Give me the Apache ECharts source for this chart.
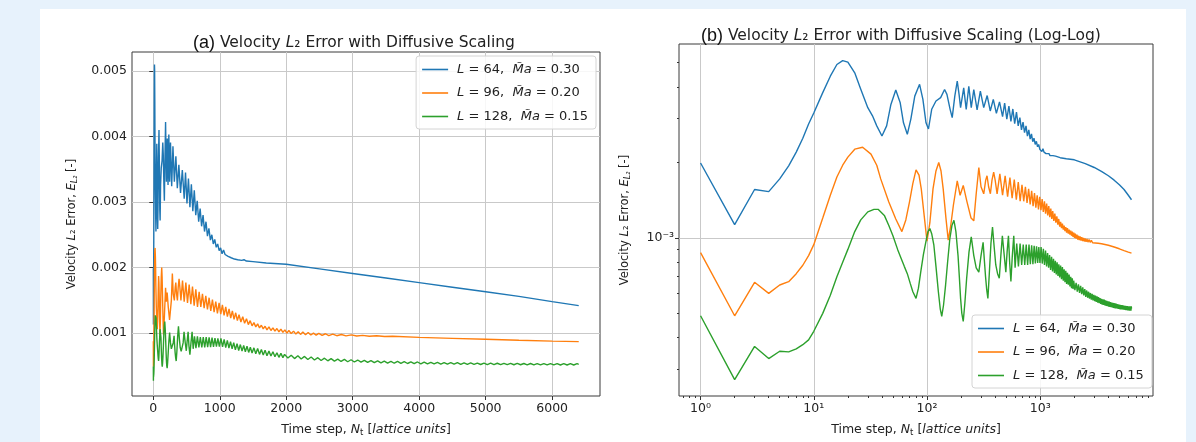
<!DOCTYPE html>
<html><head><meta charset="utf-8">
<script src="https://cdn.jsdelivr.net/npm/echarts@6/dist/echarts.min.js"></script>
<style>html,body{margin:0;padding:0;background:#e7f2fc;}#c{width:1196px;height:442px;}</style>
</head><body><div id="c"></div>
<script>
// ---------- DATA: [time step, velocity L2 error] ----------
const L64 = [[1,1.99e-3],[2,1.13e-3],[3,1.56e-3],[4,1.53e-3],[5,1.72e-3],[6,1.94e-3],[7,2.2e-3],[8,2.5e-3],[9,2.85e-3],[10,3.15e-3],
[12,3.8e-3],[14,4.42e-3],[16,4.92e-3],[18,5.1e-3],[20,5.03e-3],[23,4.56e-3],[26,3.92e-3],[30,3.31e-3],[33,3.07e-3],[36,2.8e-3],
[40,2.55e-3],[44,2.8e-3],[48,3.41e-3],[53,3.89e-3],[58,3.46e-3],[62,2.88e-3],[67,2.59e-3],[72,2.98e-3],[78,3.68e-3],[86,4.1e-3],
[92,3.57e-3],[98,2.88e-3],[103,2.72e-3],[110,3.26e-3],[120,3.52e-3],[132,3.63e-3],[143,3.91e-3],[150,3.74e-3],[160,3.26e-3],[167,3.02e-3],
[176,3.68e-3],[185,4.22e-3],[192,3.74e-3],[198,3.31e-3],[211,3.97e-3],[222,3.26e-3],[234,4.03e-3],[246,3.31e-3],[259,3.91e-3],[277,3.24e-3],
[296,3.85e-3],[317,3.31e-3],[340,3.7e-3],[362,3.21e-3],[385,3.57e-3],[410,3.14e-3],[437,3.49e-3],[465,3.05e-3],[485,3.45e-3],[507,2.98e-3],
[529,3.36e-3],[551,2.92e-3],[573,3.27e-3],[595,2.86e-3],[617,3.18e-3],[639,2.8e-3],[661,3.02e-3],[683,2.7e-3],[705,2.9e-3],[727,2.63e-3],
[749,2.8e-3],[771,2.55e-3],[793,2.7e-3],[815,2.48e-3],[837,2.6e-3],[859,2.42e-3],[881,2.5e-3],[903,2.36e-3],[925,2.43e-3],[947,2.31e-3],
[969,2.36e-3],[991,2.26e-3],[1013,2.3e-3],[1035,2.21e-3],[1057,2.27e-3],[1080,2.2e-3],[1103,2.23e-3],[1126,2.17e-3],[1149,2.2e-3],[1172,2.15e-3],
[1195,2.17e-3],[1220,2.13e-3],[1245,2.15e-3],[1270,2.12e-3],[1295,2.13e-3],[1330,2.11e-3],[1365,2.12e-3],[1400,2.1e-3],[1500,2.09e-3],[1700,2.07e-3],
[2000,2.05e-3],[2500,1.98e-3],[3000,1.91e-3],[3500,1.84e-3],[4000,1.77e-3],[4500,1.7e-3],[5000,1.63e-3],[5500,1.56e-3],[6000,1.48e-3],[6400,1.42e-3]];

const L96 = [[1,0.874e-3],[2,0.489e-3],[3,0.665e-3],[4,0.601e-3],[5,0.649e-3],[6,0.669e-3],[7,0.72e-3],[8,0.778e-3],[9,0.85e-3],[10,0.94e-3],
[12,1.2e-3],[14,1.48e-3],[16,1.75e-3],[18,1.95e-3],[20,2.1e-3],[23,2.26e-3],[27,2.3e-3],[32,2.16e-3],[36,1.95e-3],[39,1.72e-3],
[46,1.39e-3],[53,1.19e-3],[60,1.06e-3],[65,1.18e-3],[70,1.39e-3],[75,1.65e-3],[80,1.87e-3],[85,1.78e-3],[89,1.57e-3],[94,1.25e-3],
[100,0.97e-3],[106,1.15e-3],[113,1.57e-3],[120,1.85e-3],[127,2.0e-3],[133,1.85e-3],[139,1.57e-3],[147,1.2e-3],[154,0.98e-3],[162,1.12e-3],
[171,1.35e-3],[185,1.69e-3],[196,1.48e-3],[209,1.62e-3],[225,1.4e-3],[245,1.2e-3],[259,1.17e-3],[272,1.5e-3],[287,1.91e-3],[300,1.6e-3],
[317,1.5e-3],[330,1.7e-3],[339,1.77e-3],[350,1.6e-3],[363,1.5e-3],[375,1.7e-3],[388,1.83e-3],[400,1.7e-3],[416,1.5e-3],[440,1.8e-3],
[465,1.48e-3],[490,1.77e-3],[515,1.46e-3],[540,1.74e-3],[565,1.44e-3],[590,1.71e-3],[615,1.42e-3],[640,1.67e-3],[665,1.4e-3],[690,1.63e-3],
[715,1.4e-3],[740,1.6e-3],[765,1.38e-3],[790,1.57e-3],[815,1.36e-3],[840,1.54e-3],[865,1.34e-3],[890,1.51e-3],[915,1.32e-3],[940,1.48e-3],
[965,1.3e-3],[990,1.46e-3],[1015,1.29e-3],[1040,1.43e-3],[1065,1.27e-3],[1090,1.4e-3],[1115,1.25e-3],[1140,1.37e-3],[1165,1.23e-3],[1190,1.34e-3],
[1215,1.21e-3],[1240,1.31e-3],[1265,1.19e-3],[1290,1.28e-3],[1318,1.17e-3],[1346,1.25e-3],[1374,1.15e-3],[1402,1.22e-3],[1430,1.13e-3],[1458,1.19e-3],
[1486,1.11e-3],[1514,1.16e-3],[1542,1.095e-3],[1570,1.14e-3],[1598,1.08e-3],[1626,1.12e-3],[1654,1.065e-3],[1682,1.105e-3],[1710,1.05e-3],[1740,1.095e-3],
[1770,1.04e-3],[1800,1.08e-3],[1830,1.03e-3],[1860,1.07e-3],[1890,1.02e-3],[1920,1.06e-3],[1950,1.01e-3],[1980,1.05e-3],[2010,1.0e-3],[2040,1.04e-3],
[2075,0.993e-3],[2110,1.03e-3],[2145,0.985e-3],[2180,1.02e-3],[2215,0.98e-3],[2250,1.015e-3],[2290,0.975e-3],[2330,1.008e-3],[2370,0.971e-3],[2410,1.0e-3],
[2450,0.968e-3],[2490,0.995e-3],[2540,0.965e-3],[2590,0.99e-3],[2640,0.962e-3],[2700,0.985e-3],[2760,0.96e-3],[2830,0.978e-3],[2900,0.957e-3],[2980,0.972e-3],
[3060,0.955e-3],[3150,0.966e-3],[3250,0.952e-3],[3360,0.96e-3],[3480,0.948e-3],[3600,0.952e-3],[4000,0.935e-3],[4500,0.92e-3],[5000,0.905e-3],[5500,0.89e-3],[6000,0.878e-3],[6400,0.87e-3]];

const L128 = [[1,0.489e-3],[2,0.272e-3],[3,0.369e-3],[4,0.33e-3],[5,0.353e-3],[6,0.351e-3],[7,0.361e-3],[8,0.375e-3],[9,0.392e-3],[10,0.424e-3],
[12,0.5e-3],[14,0.59e-3],[16,0.7e-3],[18,0.8e-3],[20,0.9e-3],[23,1.06e-3],[26,1.18e-3],[30,1.27e-3],[34,1.3e-3],[37,1.3e-3],
[42,1.23e-3],[46,1.12e-3],[50,1.02e-3],[55,0.9e-3],[59,0.83e-3],[63,0.77e-3],[67,0.72e-3],[71,0.66e-3],[75,0.61e-3],[80,0.574e-3],
[84,0.63e-3],[88,0.73e-3],[93,0.86e-3],[98,0.97e-3],[102,1.06e-3],[106,1.09e-3],[110,1.04e-3],[115,0.935e-3],[120,0.77e-3],[126,0.61e-3],
[131,0.52e-3],[135,0.486e-3],[140,0.54e-3],[146,0.65e-3],[152,0.8e-3],[159,0.99e-3],[166,1.12e-3],[173,1.175e-3],[180,1.06e-3],[188,0.85e-3],
[193,0.7e-3],[198,0.574e-3],[203,0.5e-3],[209,0.464e-3],[216,0.55e-3],[224,0.69e-3],[235,0.88e-3],[246,1.01e-3],[253,0.92e-3],[259,0.85e-3],
[272,0.76e-3],[287,0.73e-3],[300,0.85e-3],[313,0.96e-3],[322,0.8e-3],[329,0.7e-3],[337,0.62e-3],[345,0.574e-3],[355,0.72e-3],[367,0.95e-3],
[379,1.105e-3],[392,0.92e-3],[405,0.78e-3],[420,0.72e-3],[435,0.69e-3],[449,0.85e-3],[463,1.02e-3],[480,0.86e-3],[497,0.73e-3],[510,0.88e-3],
[524,1.02e-3],[537,0.8e-3],[551,0.67e-3],[567,0.85e-3],[584,1.02e-3],[600,0.76e-3],[620,0.95e-3],[642,0.77e-3],[664,0.95e-3],[686,0.78e-3],
[708,0.94e-3],[730,0.78e-3],[752,0.94e-3],[774,0.78e-3],[796,0.94e-3],[818,0.785e-3],[840,0.935e-3],[862,0.785e-3],[884,0.93e-3],[906,0.79e-3],
[928,0.925e-3],[950,0.795e-3],[972,0.92e-3],[994,0.795e-3],[1018,0.92e-3],[1042,0.79e-3],[1066,0.905e-3],[1090,0.78e-3],[1114,0.89e-3],[1138,0.77e-3],
[1162,0.87e-3],[1186,0.76e-3],[1210,0.855e-3],[1235,0.745e-3],[1260,0.84e-3],[1285,0.735e-3],[1310,0.825e-3],[1335,0.725e-3],[1360,0.81e-3],[1385,0.715e-3],
[1410,0.8e-3],[1435,0.705e-3],[1460,0.785e-3],[1486,0.695e-3],[1514,0.775e-3],[1542,0.685e-3],[1570,0.765e-3],[1598,0.675e-3],[1626,0.75e-3],[1654,0.665e-3],
[1682,0.74e-3],[1710,0.655e-3],[1740,0.725e-3],[1770,0.65e-3],[1800,0.715e-3],[1830,0.64e-3],[1860,0.7e-3],[1890,0.63e-3],[1920,0.69e-3],[1950,0.625e-3],
[1975,0.675e-3],[2025,0.619e-3],[2075,0.662e-3],[2125,0.611e-3],[2175,0.653e-3],[2225,0.604e-3],[2275,0.644e-3],[2325,0.597e-3],[2375,0.635e-3],[2425,0.59e-3],
[2475,0.625e-3],[2525,0.582e-3],[2575,0.617e-3],[2625,0.577e-3],[2675,0.61e-3],[2725,0.572e-3],[2775,0.603e-3],[2825,0.567e-3],[2875,0.598e-3],[2925,0.563e-3],
[2975,0.593e-3],[3025,0.559e-3],[3075,0.589e-3],[3125,0.556e-3],[3175,0.584e-3],[3225,0.552e-3],[3275,0.58e-3],[3325,0.549e-3],[3375,0.576e-3],[3425,0.545e-3],
[3475,0.572e-3],[3525,0.542e-3],[3575,0.569e-3],[3625,0.54e-3],[3675,0.567e-3],[3725,0.538e-3],[3775,0.563e-3],[3825,0.536e-3],[3875,0.561e-3],[3925,0.534e-3],
[3975,0.559e-3],[4025,0.532e-3],[4075,0.557e-3],[4125,0.53e-3],[4175,0.555e-3],[4225,0.529e-3],[4275,0.552e-3],[4325,0.528e-3],[4375,0.551e-3],[4425,0.526e-3],
[4475,0.549e-3],[4525,0.525e-3],[4575,0.548e-3],[4625,0.523e-3],[4675,0.547e-3],[4725,0.523e-3],[4775,0.544e-3],[4825,0.522e-3],[4875,0.543e-3],[4925,0.521e-3],
[4975,0.542e-3],[5025,0.52e-3],[5075,0.541e-3],[5125,0.519e-3],[5175,0.54e-3],[5225,0.518e-3],[5275,0.539e-3],[5325,0.518e-3],[5375,0.538e-3],[5425,0.517e-3],
[5475,0.537e-3],[5525,0.517e-3],[5575,0.536e-3],[5625,0.516e-3],[5675,0.536e-3],[5725,0.515e-3],[5775,0.535e-3],[5825,0.515e-3],[5875,0.535e-3],[5925,0.514e-3],
[5975,0.534e-3],[6025,0.514e-3],[6075,0.534e-3],[6125,0.513e-3],[6175,0.533e-3],[6225,0.513e-3],[6275,0.533e-3],[6325,0.513e-3],[6375,0.533e-3],[6400,0.523e-3]];

const SERIES_NAMES = ['L = 64,  M\u0303a = 0.30', 'L = 96,  M\u0303a = 0.20', 'L = 128,  M\u0303a = 0.15'];
const SERIES_COLORS = ['#1f77b4', '#ff7f0e', '#2ca02c'];
const LIN_X_TICKS = [0, 1000, 2000, 3000, 4000, 5000, 6000];
const LIN_Y_TICKS = [0.001, 0.002, 0.003, 0.004, 0.005];
const LOG_X_TICKS = [1, 10, 100, 1000];
const LOG_X_MINOR = [0.7,0.8,0.9,2,3,4,5,6,7,8,9,20,30,40,50,60,70,80,90,200,300,400,500,600,700,800,900,2000,3000,4000,5000,6000,7000,8000,9000];
const LOG_Y_TICKS = [0.001];
const LOG_Y_MINOR = [3e-4,4e-4,5e-4,6e-4,7e-4,8e-4,9e-4,2e-3,3e-3,4e-3,5e-3];

// ---------- CHART ----------
const FONT = 'DejaVu Sans';
const SUP = {'-':'\u207B','0':'\u2070','1':'\u00B9','2':'\u00B2','3':'\u00B3','4':'\u2074'};
const powLabel = v => { const e = Math.round(Math.log10(v)); return '10' + String(e).split('').map(c => SUP[c]).join(''); };
const TICK_COLOR = '#333';
const GRID_COLOR = '#c9c9c9';
const labelStyle = { color: '#222', fontSize: 12.5, fontFamily: FONT };
const xNameRich = {
  i: { fontStyle: 'italic', fontSize: 12.5, fontFamily: FONT, color: '#222' },
  t: { fontSize: 8.5, fontFamily: FONT, color: '#222', padding: [6, 0, 0, 0] }
};
const yNameRich = {
  i: { fontStyle: 'italic', fontSize: 11.5, fontFamily: FONT, color: '#222' },
  s: { fontStyle: 'italic', fontSize: 8, fontFamily: FONT, color: '#222', padding: [6, 0, 0, 0] }
};
const xName = 'Time step, {i|N}{t|t} [{i|lattice units}]';
const yName = 'Velocity {i|L}\u2082 Error, {i|E}{s|L\u2082} [-]';

const chart = echarts.init(document.getElementById('c'), null, { renderer: 'canvas' });
const series = [];
[L64, L96, L128].forEach((d, i) => {
  series.push({ type: 'line', name: SERIES_NAMES[i], data: d, xAxisIndex: 0, yAxisIndex: 0, symbol: 'none', showSymbol: false,
    color: SERIES_COLORS[i], lineStyle: { width: 1.4, color: SERIES_COLORS[i] }, animation: false, clip: true, z: 3 });
  series.push({ type: 'line', name: SERIES_NAMES[i], data: d, xAxisIndex: 1, yAxisIndex: 1, symbol: 'none', showSymbol: false,
    color: SERIES_COLORS[i], lineStyle: { width: 1.4, color: SERIES_COLORS[i] }, animation: false, clip: true, z: 3 });
});

const legendFmt = n => n.replace(/^L/, '{i|L}').replace('M\u0303a', '{i|M\u0303a}');
const legendBase = {
  orient: 'vertical', data: SERIES_NAMES, icon: 'rect', itemWidth: 26, itemHeight: 1.6, itemGap: 10.5,
  backgroundColor: 'rgba(255,255,255,0.85)', borderColor: '#d4d4d4', borderWidth: 1, borderRadius: 3,
  padding: [7, 8, 6, 6], selectedMode: false, formatter: legendFmt,
  textStyle: { fontSize: 13, fontFamily: FONT, color: '#222', padding: [0, 0, 0, 4],
    rich: { i: { fontStyle: 'italic', fontSize: 13, fontFamily: FONT, color: '#222' } } }
};
const titleStyle = { fontSize: 15.5, fontWeight: 'normal', fontFamily: FONT, color: '#222',
  rich: { p: { fontSize: 18, fontFamily: 'Liberation Sans', color: '#111' }, i: { fontStyle: 'italic', fontSize: 15.5, fontFamily: FONT, color: '#222' } } };

chart.setOption({
  animation: false,
  backgroundColor: '#e7f2fc',
  graphic: [{ type: 'rect', left: 40, top: 9, shape: { width: 1146, height: 433 }, style: { fill: '#ffffff' }, z: -100, silent: true }],
  title: [
    { text: '{p|(a)} Velocity {i|L}\u2082 Error with Diffusive Scaling', left: 188, top: 29, textStyle: titleStyle },
    { text: '{p|(b)} Velocity {i|L}\u2082 Error with Diffusive Scaling (Log-Log)', left: 696, top: 22, textStyle: titleStyle }
  ],
  legend: [
    Object.assign({}, legendBase, { right: 600, top: 56 }),
    Object.assign({}, legendBase, { left: 972, top: 315 })
  ],
  grid: [
    { left: 132, top: 52, width: 468, height: 348, show: true, borderColor: '#3a3a3a', borderWidth: 1, backgroundColor: '#fff', containLabel: false },
    { left: 679, top: 44, width: 474, height: 354, show: true, borderColor: '#3a3a3a', borderWidth: 1, backgroundColor: '#fff', containLabel: false }
  ],
  xAxis: [
    { type: 'value', gridIndex: 0, min: -320, max: 6720, position: 'bottom',
      axisLine: { show: false },
      axisTick: { show: true, customValues: LIN_X_TICKS, length: 4, lineStyle: { color: TICK_COLOR } },
      axisLabel: { customValues: LIN_X_TICKS, formatter: v => String(v), margin: 6, ...labelStyle },
      splitLine: { show: true, lineStyle: { color: GRID_COLOR, width: 1 } },
      name: xName, nameLocation: 'middle', nameGap: 26,
      nameTextStyle: { fontSize: 12.5, fontFamily: FONT, color: '#222', rich: xNameRich } },
    { type: 'log', logBase: 10, gridIndex: 1, min: 0.645, max: 9911, position: 'bottom',
      axisLine: { show: false },
      axisTick: { show: true, customValues: LOG_X_TICKS, length: 4, lineStyle: { color: TICK_COLOR } },
      axisLabel: { customValues: LOG_X_TICKS, formatter: powLabel, margin: 6, ...labelStyle },
      splitLine: { show: true, lineStyle: { color: GRID_COLOR, width: 1 } },
      name: xName, nameLocation: 'middle', nameGap: 26,
      nameTextStyle: { fontSize: 12.5, fontFamily: FONT, color: '#222', rich: xNameRich } },
    { type: 'log', logBase: 10, gridIndex: 1, min: 0.645, max: 9911, position: 'bottom', offset: 0,
      axisLine: { show: false },
      axisTick: { show: true, customValues: LOG_X_MINOR, length: 2, lineStyle: { color: TICK_COLOR } },
      axisLabel: { show: false }, splitLine: { show: false } }
  ],
  yAxis: [
    { type: 'value', gridIndex: 0, min: 0.00004, max: 0.00529, position: 'left',
      axisLine: { show: false },
      axisTick: { show: true, customValues: LIN_Y_TICKS, length: 4, lineStyle: { color: TICK_COLOR } },
      axisLabel: { customValues: LIN_Y_TICKS, formatter: v => v.toFixed(3), margin: 5, ...labelStyle },
      splitLine: { show: true, lineStyle: { color: GRID_COLOR, width: 1 } },
      name: yName, nameLocation: 'middle', nameGap: 53, nameRotate: 90,
      nameTextStyle: { fontSize: 11.5, fontFamily: FONT, color: '#222', rich: yNameRich } },
    { type: 'log', logBase: 10, gridIndex: 1, min: 2.34e-4, max: 5.94e-3, position: 'left',
      axisLine: { show: false },
      axisTick: { show: true, customValues: LOG_Y_TICKS, length: 4, lineStyle: { color: TICK_COLOR } },
      axisLabel: { customValues: LOG_Y_TICKS, formatter: powLabel, margin: 5, ...labelStyle },
      splitLine: { show: true, lineStyle: { color: GRID_COLOR, width: 1 } },
      name: yName, nameLocation: 'middle', nameGap: 47, nameRotate: 90,
      nameTextStyle: { fontSize: 11.5, fontFamily: FONT, color: '#222', rich: yNameRich } },
    { type: 'log', logBase: 10, gridIndex: 1, min: 2.34e-4, max: 5.94e-3, position: 'left', offset: 0,
      axisLine: { show: false },
      axisTick: { show: true, customValues: LOG_Y_MINOR, length: 2, lineStyle: { color: TICK_COLOR } },
      axisLabel: { show: false }, splitLine: { show: false } }
  ],
  series: series
});
</script></body></html>
